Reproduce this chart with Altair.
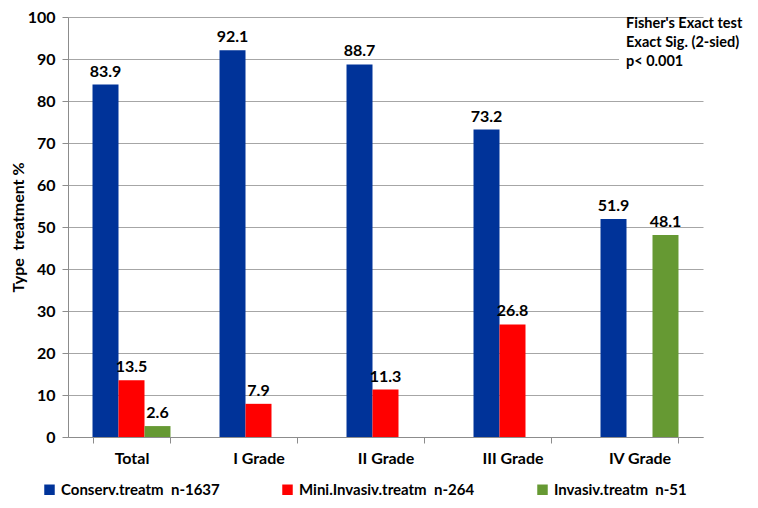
import altair as alt
import pandas as pd

categories = ["Total", "I Grade", "II Grade", "III Grade", "IV Grade"]
series = ["Conserv.treatm\u00a0 n-1637", "Mini.Invasiv.treatm\u00a0 n-264", "Invasiv.treatm\u00a0 n-51"]
conserv = [83.9, 92.1, 88.7, 73.2, 51.9]
mini = [13.5, 7.9, 11.3, 26.8, None]
invasiv = [2.6, None, None, None, 48.1]
colors = ["#003399", "#FF0000", "#669933"]
y_ticks = [0, 10, 20, 30, 40, 50, 60, 70, 80, 90, 100]
note_lines = ["Fisher's Exact test", "Exact Sig. (2-sied)", "p< 0.001"]

rows = []
for s, vals in zip(series, [conserv, mini, invasiv]):
    for c, v in zip(categories, vals):
        if v is not None:
            rows.append({"category": c, "series": s, "value": v, "label": f"{v:.1f}"})
df = pd.DataFrame(rows)

FONT = "Lato"

x_enc = alt.X(
    "category:N",
    sort=categories,
    scale=alt.Scale(paddingInner=0.386, paddingOuter=0.193),
    axis=alt.Axis(title=None, labelAngle=0, tickBand="extent", grid=False,
                  tickSize=6, labelPadding=7, labelFontSize=16),
)
xoff = alt.XOffset("series:N", sort=series,
                   scale=alt.Scale(domain=series, paddingInner=0, paddingOuter=0))
y_enc = alt.Y(
    "value:Q",
    scale=alt.Scale(domain=[0, 100], nice=False),
    axis=alt.Axis(title="Type\u00a0 treatment %", values=y_ticks, grid=True,
                  tickSize=6, labelPadding=7, titlePadding=1, labelFontSize=16),
)

base = alt.Chart(df)

bars = base.mark_bar().encode(
    x=x_enc,
    xOffset=xoff,
    y=y_enc,
    color=alt.Color(
        "series:N",
        sort=series,
        scale=alt.Scale(domain=series, range=colors),
        legend=alt.Legend(
            title=None, orient="none", legendX=-26, legendY=465,
            direction="horizontal", symbolType="square", symbolSize=110,
            symbolStrokeWidth=0, columnPadding=60, labelOffset=4,
            labelFontSize=15, labelFontWeight="bold", labelFont=FONT,
            labelColor="black", labelLimit=400,
        ),
    ),
)

labels = base.mark_text(
    baseline="alphabetic", dy=-8, fontSize=16, fontWeight="bold", font=FONT, color="black"
).encode(
    x=x_enc,
    xOffset=xoff,
    y=y_enc,
    text="label:N",
)

note_df = pd.DataFrame({"k": [0]})
note_bg = alt.Chart(note_df).mark_rect(color="white").encode(
    x=alt.value(551), x2=alt.value(645), y=alt.value(2), y2=alt.value(58)
)
note = alt.Chart(note_df).mark_text(
    align="left", baseline="top", fontSize=14.5, fontWeight="bold", font=FONT,
    color="black", lineHeight=19,
).encode(
    x=alt.value(558), y=alt.value(0), text=alt.value(note_lines)
)

chart = alt.layer(bars, labels, note_bg, note).properties(
    width=635,
    height=420,
    autosize=alt.AutoSizeParams(type="none"),
    padding={"left": 60, "top": 9, "right": 47, "bottom": 63},
).configure_view(stroke=None).configure_axis(
    domainColor="#8c8c8c",
    tickColor="#8c8c8c",
    gridColor="#a6a6a6",
    labelFont=FONT,
    labelFontWeight="bold",
    labelColor="black",
    titleFont=FONT,
    titleFontSize=16,
    titleFontWeight="bold",
    titleColor="black",
)

chart.save("out.html", embed_options={"renderer": "svg", "actions": False})
